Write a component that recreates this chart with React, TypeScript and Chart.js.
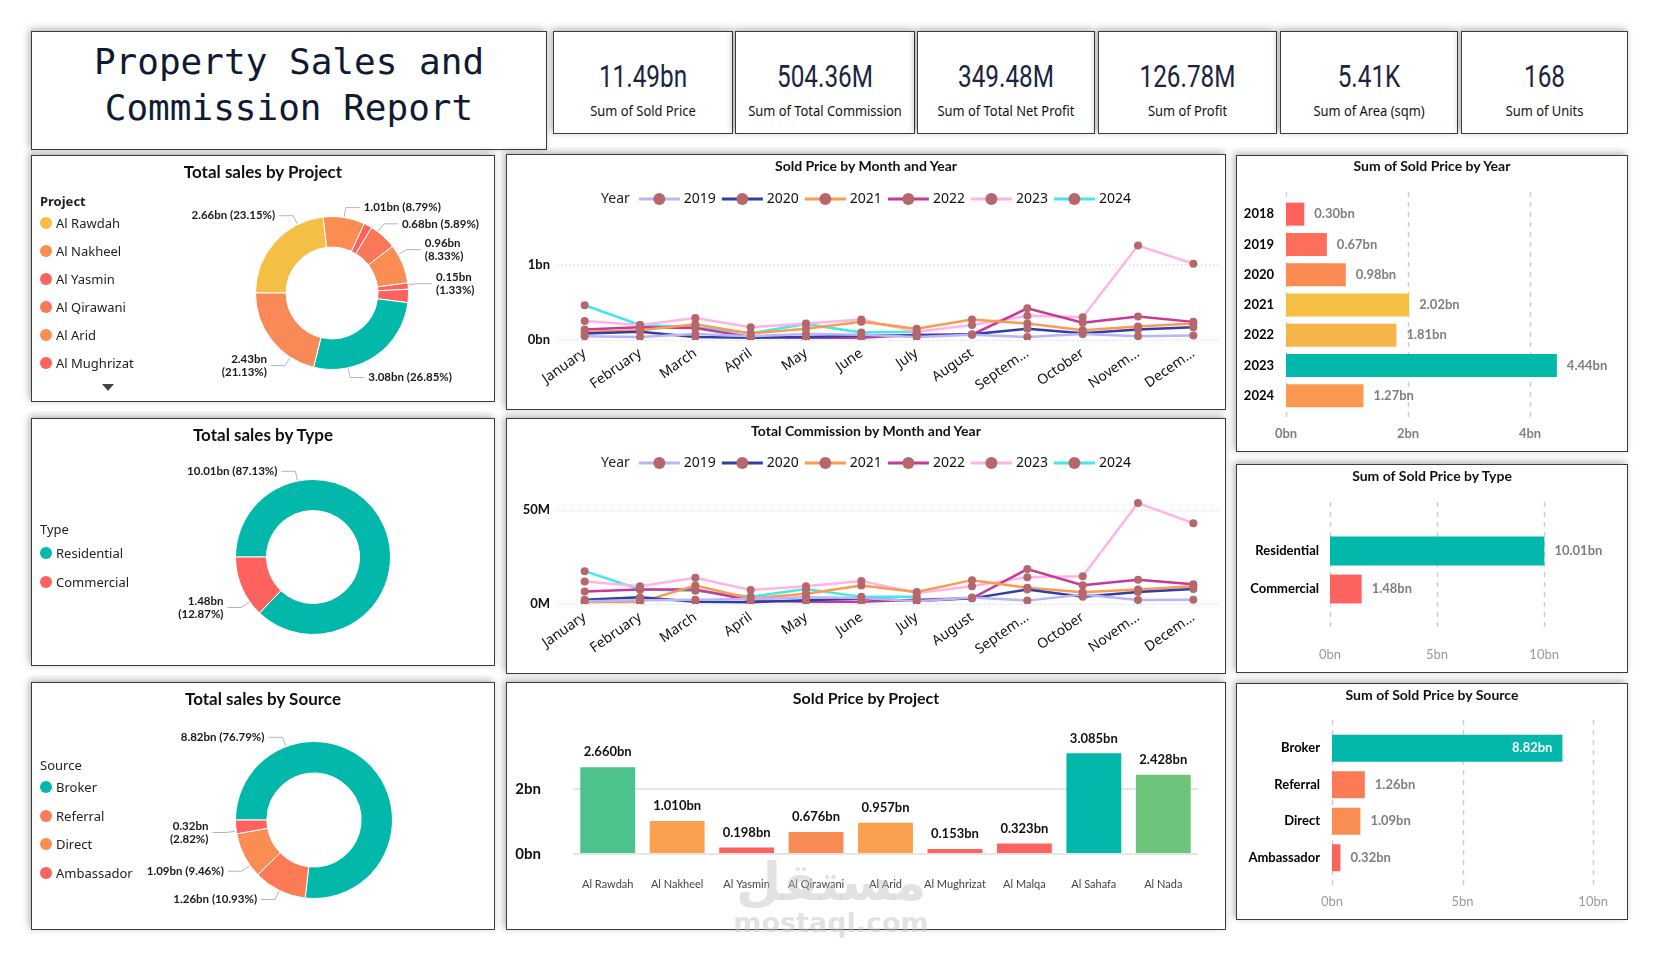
import React, { useEffect, useRef } from "react";
import { Chart, registerables } from "chart.js";
Chart.register(...registerables);
Chart.defaults.font.family = "Lato, 'Noto Sans', sans-serif";

// ---------------- DATA ----------------
const projects = ["Al Rawdah", "Al Nakheel", "Al Yasmin", "Al Qirawani", "Al Arid", "Al Mughrizat", "Al Malqa", "Al Sahafa", "Al Nada"];
const projectSales = [2.66, 1.01, 0.198, 0.6764, 0.957, 0.153, 0.323, 3.085, 2.428];
const projectDonutColors = ["#F5BF45", "#F98D52", "#FD625E", "#FB7757", "#F98D52", "#FD625E", "#FD625E", "#01B8AA", "#F98A57"];
const projectBarColors = ["#4BC38B", "#F9A14F", "#FD625E", "#F98B55", "#F9A14F", "#FD625E", "#FD625E", "#01B8AA", "#6CC57B"];

const types = ["Residential", "Commercial"];
const typeSales = [10.01, 1.4786];
const typeColors = ["#01B8AA", "#FD625E"];

const sources = ["Broker", "Referral", "Direct", "Ambassador"];
const sourceSales = [8.823, 1.256, 1.087, 0.324];
const sourceColors = ["#01B8AA", "#FC7A55", "#F98D52", "#FD625E"];

const years = ["2018", "2019", "2020", "2021", "2022", "2023", "2024"];
const yearSales = [0.3, 0.67, 0.98, 2.02, 1.81, 4.44, 1.27];
const yearColors = ["#FD625E", "#FD6F5A", "#F98B53", "#F5C044", "#F6B548", "#01B8AA", "#FA9A50"];

const months = ["January", "February", "March", "April", "May", "June", "July", "August", "Septem...", "October", "Novem...", "Decem..."];
const lineYears = ["2019", "2020", "2021", "2022", "2023", "2024"];
const lineColors = ["#B9B5F6", "#2F3FA8", "#FE9A4D", "#C6399A", "#FFB3E6", "#42E8EA"];
const markerColor = "#B5676B";

// Sold price by month (bn)
const sold2019 = [0.05, 0.04, 0.08, 0.05, 0.08, 0.07, 0.04, 0.07, 0.04, 0.08, 0.05, 0.06];
const sold2020 = [0.085, 0.11, 0.04, 0.03, 0.04, 0.06, 0.06, 0.075, 0.15, 0.09, 0.14, 0.17];
const sold2021 = [0.11, 0.13, 0.21, 0.085, 0.15, 0.24, 0.15, 0.27, 0.22, 0.13, 0.18, 0.22];
const sold2022 = [0.14, 0.17, 0.16, 0.04, 0.03, 0.03, 0.07, 0.07, 0.42, 0.23, 0.31, 0.24];
const sold2023 = [0.25, 0.2, 0.29, 0.17, 0.22, 0.27, 0.11, 0.2, 0.32, 0.3, 1.25, 1.01];
const sold2024 = [0.46, 0.2, 0.17, 0.09, 0.21, 0.1, 0.11, null, null, null, null, null];

// Commission by month (M)
const comm2019 = [1.4, 2, 2.3, 2.7, 3.6, 3.2, 1.4, 3.4, 1.8, 5, 2.1, 2.3];
const comm2020 = [2.3, 3.6, 1.2, 0.9, 2, 2.9, 1.6, 3, 7.7, 3.8, 6.4, 8];
const comm2021 = [1, 1, 9.8, 2.9, 5.4, 9.8, 6.4, 12.7, 8.6, 6.2, 7.7, 9.5];
const comm2022 = [6.6, 7.7, 7.7, 2, 1.2, 1.2, 2.3, 3, 18.6, 10, 12.9, 10.5];
const comm2023 = [12, 9.5, 14, 7.5, 9.5, 12.3, 5.9, 9.5, 14.3, 14.8, 53.8, 43];
const comm2024 = [17.5, 7.7, 7.1, 3.9, 8, 3.8, 3.8, null, null, null, null, null];

const soldTicks = [0, 1];
const commTicks = [0, 50];
const projTicks = [0, 2];
const yearTicks = [0, 2, 4];
const typeTicks = [0, 5, 10];
const sourceTicks = [0, 5, 10];

const kpiValues = ["11.49bn", "504.36M", "349.48M", "126.78M", "5.41K", "168"];
const kpiLabels = ["Sum of Sold Price", "Sum of Total Commission", "Sum of Total Net Profit", "Sum of Profit", "Sum of Area (sqm)", "Sum of Units"];

// ---------------- PLUGINS ----------------
function donutLabelPlugin(cfg: { show: number[]; twoLine: number[]; pos: Record<number, number> }) {
  return {
    id: "donutLabels",
    afterDatasetsDraw(chart: any) {
      const ctx = chart.ctx;
      const meta = chart.getDatasetMeta(0);
      const vals = chart.data.datasets[0].data as number[];
      const total = vals.reduce((a, b) => a + b, 0);
      const lh = 13;
      const items: any[] = [];
      meta.data.forEach((arc: any, i: number) => {
        if (!cfg.show.includes(i)) return;
        const p = arc.getProps(["x", "y", "startAngle", "endAngle", "outerRadius"], true);
        const f = cfg.pos[i] ?? 0.5;
        const a = p.startAngle + (p.endAngle - p.startAngle) * f;
        const c = Math.cos(a), s = Math.sin(a);
        const side = c >= 0 ? 1 : -1;
        const v = vals[i].toFixed(2) + "bn";
        const pc = "(" + ((vals[i] / total) * 100).toFixed(2) + "%)";
        const lines = cfg.twoLine.includes(i) ? [v, pc] : [v + " " + pc];
        items.push({
          side,
          ex: p.x + c * (p.outerRadius + 1),
          ey: p.y + s * (p.outerRadius + 1),
          mx: p.x + c * (p.outerRadius + 10),
          my: p.y + s * (p.outerRadius + 10),
          lines,
          h: lines.length * lh,
        });
      });
      [-1, 1].forEach((side) => {
        const arr = items.filter((it) => it.side === side).sort((a, b) => a.my - b.my);
        arr.forEach((it) => (it.ty = it.my));
        for (let k = 1; k < arr.length; k++) {
          const prev = arr[k - 1], cur = arr[k];
          const minY = prev.ty + prev.h / 2 + cur.h / 2 + 2;
          if (cur.ty < minY) cur.ty = minY;
        }
      });
      ctx.save();
      ctx.font = "bold 11.5px Lato, sans-serif";
      items.forEach((it) => {
        const hx = it.mx + it.side * 14;
        ctx.strokeStyle = "#b5b5b5";
        ctx.lineWidth = 1;
        ctx.beginPath();
        ctx.moveTo(it.ex, it.ey);
        ctx.lineTo(it.mx, it.ty);
        ctx.lineTo(hx, it.ty);
        ctx.stroke();
        ctx.fillStyle = "#1a1a1a";
        ctx.textAlign = it.side > 0 ? "left" : "right";
        ctx.textBaseline = "middle";
        const tx = hx + it.side * 4;
        it.lines.forEach((ln: string, k: number) => ctx.fillText(ln, tx, it.ty - it.h / 2 + lh / 2 + k * lh));
      });
      ctx.restore();
    },
  };
}

function lineLegendPlugin(title: string, y: number) {
  return {
    id: "lineLegend",
    afterDraw(chart: any) {
      const ctx = chart.ctx;
      ctx.save();
      ctx.font = "14px 'Noto Sans', sans-serif";
      ctx.textBaseline = "middle";
      ctx.textAlign = "left";
      const ds = chart.data.datasets;
      const lineW = 41, gapA = 4, gapB = 6;
      const titleW = ctx.measureText(title).width;
      let total = titleW + 9;
      ds.forEach((d: any) => (total += lineW + gapA + ctx.measureText(d.label).width + gapB));
      total -= gapB;
      let x = (chart.width - total) / 2;
      ctx.fillStyle = "#222";
      ctx.fillText(title, x, y);
      x += titleW + 9;
      ds.forEach((d: any) => {
        ctx.strokeStyle = d.borderColor;
        ctx.lineWidth = 3;
        ctx.beginPath();
        ctx.moveTo(x, y);
        ctx.lineTo(x + lineW, y);
        ctx.stroke();
        ctx.fillStyle = markerColor;
        ctx.beginPath();
        ctx.arc(x + lineW / 2, y, 6, 0, Math.PI * 2);
        ctx.fill();
        x += lineW + gapA;
        ctx.fillStyle = "#111";
        ctx.fillText(d.label, x, y);
        x += ctx.measureText(d.label).width + gapB;
      });
      ctx.restore();
    },
  };
}

function extGridPlugin(top: number, bottom: number) {
  return {
    id: "extGrid",
    beforeDatasetsDraw(chart: any) {
      const { ctx, chartArea } = chart;
      const sc = chart.scales.x;
      ctx.save();
      ctx.strokeStyle = "#cfcfcf";
      ctx.lineWidth = 1.5;
      ctx.setLineDash([5, 5]);
      sc.ticks.forEach((t: any) => {
        const x = Math.round(sc.getPixelForValue(t.value)) + 0.5;
        ctx.beginPath();
        ctx.moveTo(x, chartArea.top - top);
        ctx.lineTo(x, chartArea.bottom + bottom);
        ctx.stroke();
      });
      ctx.restore();
    },
  };
}

function barLabelPlugin(o: { horizontal: boolean; format: (v: number) => string; color: string; font: string; gap: number; inside?: number[]; insideColor?: string }) {
  return {
    id: "barLabels",
    afterDatasetsDraw(chart: any) {
      const ctx = chart.ctx;
      const meta = chart.getDatasetMeta(0);
      const data = chart.data.datasets[0].data as number[];
      ctx.save();
      ctx.font = o.font;
      meta.data.forEach((el: any, i: number) => {
        const text = o.format(data[i]);
        if (o.horizontal) {
          ctx.textBaseline = "middle";
          if (o.inside && o.inside.includes(i)) {
            ctx.fillStyle = o.insideColor || "#fff";
            ctx.textAlign = "right";
            ctx.fillText(text, el.x - o.gap, el.y);
          } else {
            ctx.fillStyle = o.color;
            ctx.textAlign = "left";
            ctx.fillText(text, el.x + o.gap, el.y);
          }
        } else {
          ctx.textAlign = "center";
          ctx.textBaseline = "middle";
          ctx.fillStyle = o.color;
          ctx.fillText(text, el.x, el.y - o.gap);
        }
      });
      ctx.restore();
    },
  };
}

// ---------------- CONFIGS ----------------
function donutConfig(labels: string[], values: number[], colors: string[], pad: any, lab: any) {
  return {
    type: "doughnut",
    data: { labels, datasets: [{ data: values, backgroundColor: colors, borderWidth: 1, borderColor: "#ffffff" }] },
    options: {
      animation: false,
      responsive: true,
      maintainAspectRatio: false,
      rotation: -90,
      cutout: "60%",
      layout: { padding: pad },
      plugins: { legend: { display: false }, tooltip: { enabled: false } },
    },
    plugins: [donutLabelPlugin(lab)],
  };
}

function lineConfig(series: (number | null)[][], max: number, ticks: number[], unit: string) {
  return {
    type: "line",
    data: {
      labels: months,
      datasets: lineYears.map((yr, i) => ({
        label: yr,
        data: series[i],
        borderColor: lineColors[i],
        backgroundColor: lineColors[i],
        pointBackgroundColor: markerColor,
        pointBorderWidth: 0,
        pointRadius: 4,
        borderWidth: 2.5,
        tension: 0,
      })),
    },
    options: {
      animation: false,
      responsive: true,
      maintainAspectRatio: false,
      layout: { padding: { left: 8, right: 1, top: 77, bottom: 0 } },
      plugins: { legend: { display: false }, tooltip: { enabled: false } },
      scales: {
        x: {
          offset: true,
          grid: { display: false, drawTicks: false },
          border: { display: false },
          afterFit: (s: any) => { s.height = 69; },
          ticks: { autoSkip: false, minRotation: 35, maxRotation: 35, padding: 5, color: "#111", font: { size: 14, family: "'Noto Sans', sans-serif" } },
        },
        y: {
          min: 0,
          max,
          afterBuildTicks: (s: any) => { s.ticks = ticks.map((v) => ({ value: v })); },
          afterFit: (s: any) => { s.width = 42; },
          border: { display: false, dash: [1, 3] },
          grid: { color: "#d0d0d0", lineWidth: 1, drawTicks: false },
          ticks: { padding: 7, color: "#111", font: { size: 13, weight: "bold" }, callback: (v: any) => v + unit },
        },
      },
    },
    plugins: [lineLegendPlugin("Year", 44)],
  };
}

function hbarConfig(labels: string[], values: number[], colors: string[], o: any) {
  return {
    type: "bar",
    data: { labels, datasets: [{ data: values, backgroundColor: colors, barPercentage: o.barPct, categoryPercentage: 1 }] },
    options: {
      indexAxis: "y",
      animation: false,
      responsive: true,
      maintainAspectRatio: false,
      layout: { padding: { left: 0, right: o.right, top: o.top, bottom: 0 } },
      plugins: { legend: { display: false }, tooltip: { enabled: false } },
      scales: {
        x: {
          min: 0,
          max: o.max,
          afterBuildTicks: (s: any) => { s.ticks = o.ticks.map((v: number) => ({ value: v })); },
          afterFit: (s: any) => { s.height = o.xh; },
          grid: { display: false, drawTicks: false },
          border: { display: false },
          ticks: { padding: o.xpad, color: o.tickColor, font: { size: 13, weight: o.tickWeight }, callback: (v: any) => v + "bn" },
        },
        y: {
          afterFit: (s: any) => { s.width = o.yw; },
          grid: { display: false, drawTicks: false },
          border: { display: false },
          ticks: { padding: o.ypad, color: "#000", font: { size: 13, weight: "bold" } },
        },
      },
    },
    plugins: [
      extGridPlugin(o.gt, o.gb),
      barLabelPlugin({ horizontal: true, format: (v) => v.toFixed(2) + "bn", color: "#7f7f7f", font: "bold 13px Lato, sans-serif", gap: 10, inside: o.inside, insideColor: "#fff" }),
    ],
  };
}

function projectBarConfig() {
  return {
    type: "bar",
    data: { labels: projects, datasets: [{ data: projectSales, backgroundColor: projectBarColors, barPercentage: 0.79, categoryPercentage: 1 }] },
    options: {
      animation: false,
      responsive: true,
      maintainAspectRatio: false,
      layout: { padding: { left: 0, right: 27, top: 47, bottom: 0 } },
      plugins: { legend: { display: false }, tooltip: { enabled: false } },
      scales: {
        x: {
          grid: { display: false, drawTicks: false },
          border: { display: false },
          afterFit: (s: any) => { s.height = 75; },
          ticks: { autoSkip: false, maxRotation: 0, padding: 24, color: "#444", font: { size: 11 } },
        },
        y: {
          min: 0,
          max: 3.8,
          afterBuildTicks: (s: any) => { s.ticks = projTicks.map((v) => ({ value: v })); },
          afterFit: (s: any) => { s.width = 66; },
          border: { display: false },
          grid: { color: "#e6e6e6", lineWidth: 2, drawTicks: false },
          ticks: { padding: 32, color: "#111", font: { size: 15, weight: "bold" }, callback: (v: any) => v + "bn" },
        },
      },
    },
    plugins: [barLabelPlugin({ horizontal: false, format: (v) => v.toFixed(3) + "bn", color: "#111", font: "bold 13px Lato, sans-serif", gap: 15 })],
  };
}

// ---------------- COMPONENTS ----------------
function ChartBox({ config }: { config: () => any }) {
  const ref = useRef<HTMLCanvasElement>(null);
  useEffect(() => {
    const c = new Chart(ref.current as HTMLCanvasElement, config() as any);
    return () => c.destroy();
  }, []);
  return (
    <div style={{ position: "absolute", left: 0, top: 0, right: 0, bottom: 0 }}>
      <canvas ref={ref} />
    </div>
  );
}

function Panel({ x, y, w, h, children }: any) {
  return (
    <div
      style={{
        position: "absolute",
        left: x,
        top: y,
        width: w,
        height: h,
        boxSizing: "border-box",
        border: "1px solid #3c3c3c",
        background: "#fff",
        boxShadow: "-2px -2px 7px rgba(0,0,0,0.3)",
      }}
    >
      {children}
    </div>
  );
}

function PanelTitle({ text, top, size }: any) {
  return (
    <div
      style={{
        position: "absolute",
        left: 0,
        right: 0,
        top,
        textAlign: "center",
        fontFamily: "Lato, sans-serif",
        fontWeight: 700,
        fontSize: size,
        lineHeight: `${size + 4}px`,
        color: "#111",
        whiteSpace: "nowrap",
        pointerEvents: "none",
      }}
    >
      {text}
    </div>
  );
}

function DonutLegend({ title, bold, names, colors, titleY, startY, spacing }: any) {
  return (
    <div style={{ position: "absolute", left: 0, top: 0, fontFamily: "'Noto Sans', sans-serif", fontSize: 13, color: "#222" }}>
      <div style={{ position: "absolute", left: 8, top: titleY - 9, lineHeight: "18px", fontWeight: bold ? 700 : 400, whiteSpace: "nowrap" }}>{title}</div>
      {names.map((n: string, i: number) => (
        <div key={n} style={{ position: "absolute", left: 8, top: startY + i * spacing - 9, height: 18, display: "flex", alignItems: "center", whiteSpace: "nowrap" }}>
          <span style={{ width: 12, height: 12, borderRadius: 6, background: colors[i], display: "inline-block", marginRight: 4 }} />
          <span>{n}</span>
        </div>
      ))}
    </div>
  );
}

export default function App() {
  const kpiBoxes = [
    [553, 180],
    [735, 180],
    [917, 178],
    [1098, 179],
    [1280, 178],
    [1461, 167],
  ];
  return (
    <div style={{ position: "fixed", left: 0, top: 0, width: 1660, height: 960, background: "#fff", overflow: "hidden", fontFamily: "Lato, 'Noto Sans', sans-serif" }}>
      {/* Title */}
      <Panel x={31} y={31} w={516} h={119}>
        <div
          style={{
            position: "absolute",
            left: 0,
            right: 0,
            top: 7,
            textAlign: "center",
            fontFamily: "'DejaVu Sans Mono', 'Liberation Mono', monospace",
            fontSize: 36,
            lineHeight: "46px",
            color: "#101a33",
            whiteSpace: "nowrap",
          }}
        >
          <div>Property Sales and</div>
          <div>Commission Report</div>
        </div>
      </Panel>

      {/* KPI cards */}
      {kpiBoxes.map(([x, w], i) => (
        <Panel key={i} x={x} y={31} w={w} h={103}>
          <div
            style={{
              position: "absolute",
              left: 0,
              right: 0,
              top: 25,
              textAlign: "center",
              fontFamily: "Roboto, sans-serif",
              fontSize: 32,
              lineHeight: "38px",
              color: "#1b2440",
              whiteSpace: "nowrap",
              transform: "scaleX(0.76)",
              transformOrigin: "center",
            }}
          >
            {kpiValues[i]}
          </div>
          <div
            style={{
              position: "absolute",
              left: -20,
              right: -20,
              top: 69,
              textAlign: "center",
              fontFamily: "'Noto Sans', sans-serif",
              fontSize: 15,
              lineHeight: "18px",
              color: "#111",
              whiteSpace: "nowrap",
              transform: "scaleX(0.86)",
              transformOrigin: "center",
            }}
          >
            {kpiLabels[i]}
          </div>
        </Panel>
      ))}

      {/* Row 1 */}
      <Panel x={31} y={155} w={464} h={247}>
        <ChartBox
          config={() =>
            donutConfig(projects, projectSales, projectDonutColors, { top: 60, bottom: 31, left: 223, right: 85 }, {
              show: [0, 1, 3, 4, 5, 7, 8],
              twoLine: [4, 5, 8],
              pos: { 0: 0.76, 1: 0.5, 3: 0.27, 4: 0.25, 5: 0.3, 7: 0.73, 8: 0.25 },
            })
          }
        />
        <PanelTitle text="Total sales by Project" top={5} size={17} />
        <DonutLegend title="Project" bold names={projects.slice(0, 6)} colors={projectDonutColors} titleY={45} startY={67} spacing={28} />
        <div style={{ position: "absolute", left: 70, top: 228, width: 0, height: 0, borderLeft: "6px solid transparent", borderRight: "6px solid transparent", borderTop: "7px solid #444" }} />
      </Panel>

      <Panel x={506} y={154} w={720} h={256}>
        <ChartBox config={() => lineConfig([sold2019, sold2020, sold2021, sold2022, sold2023, sold2024], 1.43, soldTicks, "bn")} />
        <PanelTitle text="Sold Price by Month and Year" top={2} size={14} />
      </Panel>

      <Panel x={1236} y={155} w={392} h={297}>
        <ChartBox
          config={() =>
            hbarConfig(years, yearSales, yearColors, {
              barPct: 0.76, right: 36, top: 43, max: 5, ticks: yearTicks, xh: 40, xpad: 15, tickColor: "#808080", tickWeight: "bold", yw: 49, ypad: 12, gt: 7, gb: 8,
            })
          }
        />
        <PanelTitle text="Sum of Sold Price by Year" top={1} size={14} />
      </Panel>

      {/* Row 2 */}
      <Panel x={31} y={418} w={464} h={248}>
        <ChartBox
          config={() =>
            donutConfig(types, typeSales, typeColors, { top: 60, bottom: 30, left: 203, right: 103 }, {
              show: [0, 1],
              twoLine: [1],
              pos: { 0: 0.25, 1: 0.24 },
            })
          }
        />
        <PanelTitle text="Total sales by Type" top={5} size={17} />
        <DonutLegend title="Type" names={types} colors={typeColors} titleY={110} startY={134} spacing={29} />
      </Panel>

      <Panel x={506} y={418} w={720} h={256}>
        <ChartBox config={() => lineConfig([comm2019, comm2020, comm2021, comm2022, comm2023, comm2024], 57.5, commTicks, "M")} />
        <PanelTitle text="Total Commission by Month and Year" top={3} size={14} />
      </Panel>

      <Panel x={1236} y={464} w={392} h={209}>
        <ChartBox
          config={() =>
            hbarConfig(types, typeSales, typeColors, {
              barPct: 0.76, right: 40, top: 67, max: 12, ticks: typeTicks, xh: 64, xpad: 39, tickColor: "#9a9a9a", tickWeight: "normal", yw: 93, ypad: 11, gt: 30, gb: 24,
            })
          }
        />
        <PanelTitle text="Sum of Sold Price by Type" top={2} size={14} />
      </Panel>

      {/* Row 3 */}
      <Panel x={31} y={682} w={464} h={248}>
        <ChartBox
          config={() =>
            donutConfig(sources, sourceSales, sourceColors, { top: 58, bottom: 30, left: 203, right: 101 }, {
              show: [0, 1, 2, 3],
              twoLine: [3],
              pos: { 0: 0.25, 1: 0.5, 2: 0.26, 3: 0.2 },
            })
          }
        />
        <PanelTitle text="Total sales by Source" top={5} size={17} />
        <DonutLegend title="Source" names={sources} colors={sourceColors} titleY={82} startY={104} spacing={28.7} />
      </Panel>

      <Panel x={506} y={682} w={720} h={248}>
        <ChartBox config={projectBarConfig} />
        <PanelTitle text="Sold Price by Project" top={5} size={16} />
      </Panel>

      <Panel x={1236} y={683} w={392} h={237}>
        <ChartBox
          config={() =>
            hbarConfig(sources, sourceSales, sourceColors, {
              barPct: 0.74, right: 18, top: 46, max: 10.6, ticks: sourceTicks, xh: 43, xpad: 18, tickColor: "#9a9a9a", tickWeight: "normal", yw: 95, ypad: 12, gt: 10, gb: 12, inside: [0],
            })
          }
        />
        <PanelTitle text="Sum of Sold Price by Source" top={2} size={14} />
      </Panel>

      {/* watermark */}
      <div style={{ position: "absolute", left: 700, width: 262, top: 852, textAlign: "center", pointerEvents: "none", color: "rgba(190,190,190,0.45)", fontFamily: "'DejaVu Sans', sans-serif", fontWeight: 700 }}>
        <div style={{ fontSize: 52, lineHeight: "60px" }}>مستقل</div>
        <div style={{ fontSize: 27, lineHeight: "30px", marginTop: -4 }}>mostaql.com</div>
      </div>
    </div>
  );
}
